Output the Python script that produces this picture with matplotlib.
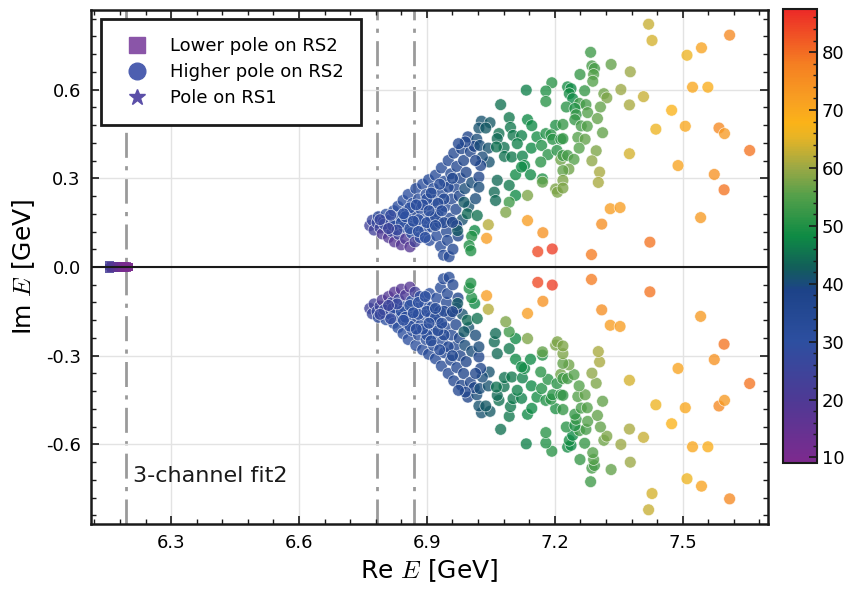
import numpy as np
import matplotlib.pyplot as plt
from matplotlib.colors import LinearSegmentedColormap, Normalize
from matplotlib.lines import Line2D
from matplotlib.ticker import AutoMinorLocator, MultipleLocator

plt.rcParams['font.family'] = 'DejaVu Sans'
plt.rcParams['mathtext.fontset'] = 'cm'
plt.rcParams['axes.unicode_minus'] = False

# thresholds (dash-dot lines)
thresholds = [6.194, 6.783, 6.870]

# lower pole on RS2 (re, im, colour value), mirrored to -im below
lower_pts = [
    (6.155, 0.004, 22), (6.160, 0.003, 21), (6.165, 0.002, 19), (6.168, 0.000, 20),
    (6.170, 0.002, 18), (6.175, 0.003, 16), (6.178, 0.000, 15), (6.180, 0.002, 14),
    (6.185, 0.001, 12), (6.188, 0.000, 12), (6.190, 0.003, 11), (6.195, 0.002, 10),
    (6.200, 0.000, 10),
]

# higher pole on RS2: dense cluster near the thresholds
blob_pts = [
    (6.766, 0.140, 24), (6.772, 0.158, 26), (6.776, 0.125, 24), (6.783, 0.150, 27),
    (6.786, 0.170, 29), (6.790, 0.132, 25), (6.795, 0.112, 20), (6.798, 0.155, 28),
    (6.804, 0.178, 30), (6.806, 0.138, 27), (6.810, 0.100, 19), (6.814, 0.160, 29),
    (6.818, 0.120, 26), (6.822, 0.190, 31), (6.824, 0.085, 18), (6.828, 0.145, 30),
    (6.832, 0.205, 31), (6.834, 0.110, 25), (6.838, 0.170, 31), (6.840, 0.075, 18),
    (6.844, 0.225, 31), (6.846, 0.135, 30), (6.850, 0.095, 20), (6.853, 0.190, 31),
    (6.856, 0.245, 31), (6.858, 0.155, 31), (6.860, 0.068, 18), (6.864, 0.115, 30),
    (6.866, 0.215, 31), (6.870, 0.175, 31), (6.872, 0.085, 23), (6.874, 0.265, 32),
    (6.878, 0.140, 31), (6.880, 0.230, 32), (6.884, 0.100, 29), (6.886, 0.195, 32),
    (6.890, 0.280, 32), (6.892, 0.160, 32), (6.895, 0.125, 31), (6.898, 0.245, 32),
    (6.902, 0.210, 32), (6.904, 0.295, 33), (6.906, 0.090, 31), (6.909, 0.170, 32),
    (6.912, 0.135, 32), (6.915, 0.265, 33), (6.918, 0.225, 33), (6.920, 0.310, 33),
    (6.923, 0.105, 32), (6.926, 0.185, 33), (6.930, 0.150, 33), (6.932, 0.070, 33),
    (6.934, 0.335, 34), (6.936, 0.250, 33), (6.939, 0.040, 33), (6.941, 0.290, 34),
    (6.943, 0.205, 34), (6.946, 0.120, 35), (6.948, 0.090, 34), (6.950, 0.360, 35),
    (6.952, 0.035, 34), (6.954, 0.165, 36), (6.956, 0.315, 36), (6.958, 0.230, 35),
    (6.961, 0.060, 35), (6.963, 0.385, 36), (6.965, 0.270, 36), (6.968, 0.195, 37),
    (6.970, 0.340, 36), (6.973, 0.105, 39), (6.976, 0.240, 38), (6.978, 0.300, 38),
    (6.981, 0.400, 38), (6.983, 0.160, 41), (6.986, 0.360, 38), (6.989, 0.265, 40),
    (6.992, 0.320, 39), (6.996, 0.440, 39), (6.998, 0.205, 41), (7.002, 0.390, 39),
    (7.005, 0.285, 40), (6.800, 0.145, 27), (6.820, 0.140, 29), (6.840, 0.150, 31),
    (6.860, 0.130, 31), (6.880, 0.160, 31), (6.900, 0.150, 31), (6.920, 0.170, 33),
    (6.860, 0.200, 31), (6.900, 0.230, 32), (6.940, 0.230, 34), (6.950, 0.270, 35),
    (6.880, 0.120, 30), (6.850, 0.170, 31), (6.890, 0.210, 31), (6.910, 0.250, 33),
    (6.930, 0.280, 33), (6.960, 0.300, 36), (6.970, 0.140, 39), (6.940, 0.150, 35),
    (6.920, 0.140, 33), (6.896, 0.100, 30), (6.830, 0.125, 27), (6.810, 0.130, 25),
    (6.868, 0.155, 31), (6.926, 0.215, 33), (6.845, 0.180, 30), (6.875, 0.210, 31),
    (6.905, 0.190, 32), (6.935, 0.190, 33), (6.815, 0.175, 28), (6.790, 0.160, 26),
]

# higher pole on RS2: spread between 6.95 and 7.22 GeV
mid_pts = [
    (7.193, 0.623, 51), (7.133, 0.598, 47), (7.179, 0.595, 50), (7.179, 0.560, 51),
    (7.073, 0.549, 45), (7.093, 0.505, 46), (7.136, 0.498, 48), (7.146, 0.478, 48),
    (7.028, 0.493, 41), (7.048, 0.488, 42), (7.022, 0.470, 41), (7.038, 0.470, 42),
    (7.096, 0.472, 46), (7.202, 0.479, 50), (7.102, 0.445, 46), (7.122, 0.444, 47),
    (7.069, 0.451, 45), (7.065, 0.434, 44), (7.017, 0.432, 40), (7.158, 0.440, 49),
    (7.179, 0.451, 50), (7.191, 0.447, 51), (7.112, 0.417, 47), (7.145, 0.402, 48),
    (7.169, 0.411, 50), (7.195, 0.432, 51), (7.214, 0.432, 51), (7.081, 0.404, 45),
    (7.011, 0.408, 39), (7.024, 0.411, 40), (7.044, 0.402, 41), (7.063, 0.406, 45),
    (6.990, 0.423, 37), (6.974, 0.417, 36), (7.184, 0.380, 51), (7.205, 0.394, 51),
    (7.082, 0.374, 45), (7.099, 0.372, 46), (7.124, 0.375, 47), (7.129, 0.343, 48),
    (7.167, 0.355, 51), (7.214, 0.363, 57), (7.046, 0.355, 41), (7.030, 0.372, 40),
    (7.026, 0.343, 38), (7.014, 0.360, 38), (7.108, 0.312, 48), (7.122, 0.338, 48),
    (7.143, 0.312, 48), (7.171, 0.298, 50), (7.065, 0.293, 44), (7.093, 0.276, 46),
    (7.022, 0.304, 38), (7.022, 0.270, 40), (7.058, 0.253, 44), (7.108, 0.242, 48),
    (7.136, 0.242, 58), (7.171, 0.287, 56), (7.202, 0.264, 58), (7.206, 0.253, 58),
    (7.061, 0.225, 44), (7.093, 0.219, 53), (7.085, 0.185, 58), (7.014, 0.231, 40),
    (6.987, 0.219, 42), (6.995, 0.180, 44), (7.018, 0.174, 45), (7.044, 0.143, 62),
    (7.012, 0.123, 48), (7.005, 0.104, 50), (6.999, 0.072, 50), (7.003, 0.055, 50),
    (7.040, 0.097, 72), (7.136, 0.157, 72), (7.172, 0.116, 74), (7.160, 0.052, 84),
    (7.194, 0.061, 85), (6.972, 0.123, 42), (6.960, 0.151, 38),
]

# higher pole on RS2: sparse tail above 7.2 GeV
far_pts = [
    (7.420, 0.821, 63), (7.428, 0.766, 64), (7.284, 0.726, 53), (7.332, 0.685, 56),
    (7.287, 0.680, 54), (7.293, 0.671, 54), (7.259, 0.651, 52), (7.291, 0.651, 55),
    (7.289, 0.628, 55), (7.377, 0.660, 60), (7.230, 0.609, 49), (7.238, 0.603, 48),
    (7.270, 0.596, 52), (7.355, 0.600, 60), (7.234, 0.586, 49), (7.242, 0.569, 48),
    (7.315, 0.586, 57), (7.322, 0.572, 58), (7.408, 0.576, 63), (7.227, 0.541, 51),
    (7.258, 0.553, 53), (7.273, 0.549, 54), (7.247, 0.536, 50), (7.307, 0.541, 56),
    (7.375, 0.548, 61), (7.250, 0.515, 52), (7.277, 0.522, 55), (7.247, 0.498, 52),
    (7.300, 0.502, 56), (7.219, 0.482, 52), (7.262, 0.477, 54), (7.276, 0.476, 55),
    (7.437, 0.466, 66), (7.312, 0.454, 56), (7.219, 0.434, 52), (7.254, 0.438, 55),
    (7.271, 0.432, 56), (7.257, 0.402, 55), (7.297, 0.393, 58), (7.375, 0.383, 64),
    (7.219, 0.377, 53), (7.230, 0.377, 54), (7.245, 0.364, 55), (7.287, 0.359, 59),
    (7.233, 0.331, 57), (7.219, 0.326, 56), (7.305, 0.321, 61), (7.219, 0.293, 58),
    (7.302, 0.286, 61), (7.219, 0.267, 58), (7.330, 0.197, 72), (7.353, 0.201, 72),
    (7.310, 0.145, 75), (7.423, 0.084, 79), (7.286, 0.042, 78),
    (7.610, 0.784, 76), (7.544, 0.741, 71), (7.510, 0.716, 66), (7.523, 0.608, 70),
    (7.559, 0.608, 69), (7.474, 0.530, 68), (7.506, 0.476, 70), (7.585, 0.470, 76),
    (7.598, 0.451, 73), (7.657, 0.394, 79), (7.489, 0.343, 71), (7.574, 0.313, 74),
    (7.597, 0.261, 79), (7.542, 0.167, 73),
]

cbar_ticks = [10, 20, 30, 40, 50, 60, 70, 80]
vmin, vmax = 9.1, 87.4

cmap = LinearSegmentedColormap.from_list('poles', [
    (0.000, '#7d2a8e'), (0.140, '#4d3a95'), (0.267, '#2d4fa0'),
    (0.380, '#1d4388'), (0.430, '#125e5a'), (0.500, '#0e8b44'),
    (0.590, '#55a04a'), (0.650, '#9aa845'), (0.720, '#e8b425'),
    (0.750, '#fbb318'), (0.800, '#f8a022'), (0.880, '#f57f22'),
    (1.000, '#ec2a27')])
norm = Normalize(vmin, vmax)


def mirror(pts):
    a = np.array(pts, dtype=float)
    re = np.concatenate([a[:, 0], a[:, 0]])
    im = np.concatenate([a[:, 1], -a[:, 1]])
    val = np.concatenate([a[:, 2], a[:, 2]])
    return re, im, val


fig = plt.figure(figsize=(8.56, 5.93), dpi=100)
ax = fig.add_axes([90.5/856, 1-524/593, 677.5/856, 514/593])

ax.grid(True, color='#e3e3e3', lw=1, zorder=0)
for t in thresholds:
    ax.axvline(t, color='#9a9a9a', lw=2, dashes=(9, 3, 1.5, 3), zorder=1)

re, im, val = mirror(lower_pts)
ax.scatter(re, im, c=val, cmap=cmap, norm=norm, marker='s', s=40,
           alpha=0.85, edgecolors='none', zorder=3)

hi = blob_pts + mid_pts + far_pts
re, im, val = mirror(hi)
ax.scatter(re, im, c=val, cmap=cmap, norm=norm, marker='o', s=72,
           alpha=0.78, edgecolors='white', linewidths=0.5, zorder=3)

ax.axhline(0, color='#1a1a1a', lw=1.5, zorder=4)

ax.set_xlim(6.111, 7.70)
ax.set_ylim(-0.869, 0.869)
ax.xaxis.set_major_locator(MultipleLocator(0.3))
ax.yaxis.set_major_locator(MultipleLocator(0.3))
ax.xaxis.set_minor_locator(AutoMinorLocator(5))
ax.yaxis.set_minor_locator(AutoMinorLocator(5))
ax.xaxis.set_major_formatter(plt.FuncFormatter(lambda v, p: f'{v:.1f}'))
ax.yaxis.set_major_formatter(plt.FuncFormatter(lambda v, p: f'{v:.1f}'))
ax.tick_params(which='both', direction='in', top=True, right=True,
               labelsize=13, color='#1a1a1a')
ax.tick_params(which='major', length=6, width=1.2, pad=7)
ax.tick_params(which='minor', length=3.5, width=1)
for s in ax.spines.values():
    s.set_linewidth(1.8)
    s.set_color('#1a1a1a')

ax.set_xlabel(r'Re $E$ [GeV]', fontsize=18, labelpad=4)
ax.set_ylabel(r'Im $E$ [GeV]', fontsize=18, labelpad=6)

ax.text(0.063, 0.082, '3-channel fit2', transform=ax.transAxes,
        fontsize=16, color='#1a1a1a')

handles = [
    Line2D([], [], marker='s', ls='none', color='#8a55a8', markersize=12),
    Line2D([], [], marker='o', ls='none', color='#4d5fb0', markersize=12),
    Line2D([], [], marker='*', ls='none', color='#5b4fa8', markersize=12),
]
leg = ax.legend(handles, ['Lower pole on RS2', 'Higher pole on RS2', 'Pole on RS1'],
                loc='upper left', bbox_to_anchor=(0.0155, 0.9825), borderaxespad=0,
                fontsize=13, borderpad=1.0, labelspacing=0.45, handletextpad=0.8,
                fancybox=False, framealpha=1, edgecolor='#1a1a1a')
leg.get_frame().set_linewidth(2)
leg.set_zorder(6)

cax = fig.add_axes([782.7/856, 1-462.7/593, 34/856, 453.4/593])
sm = plt.cm.ScalarMappable(norm=norm, cmap=cmap)
cb = fig.colorbar(sm, cax=cax, ticks=cbar_ticks)
cb.ax.yaxis.set_minor_locator(MultipleLocator(2))
cb.ax.tick_params(which='both', direction='in', labelsize=13, color='#1a1a1a')
cb.ax.tick_params(which='major', length=6, width=1.2)
cb.ax.tick_params(which='minor', length=3, width=1)
cb.outline.set_linewidth(1.5)
cb.outline.set_edgecolor('#1a1a1a')

fig.savefig('out.png', dpi=100)
